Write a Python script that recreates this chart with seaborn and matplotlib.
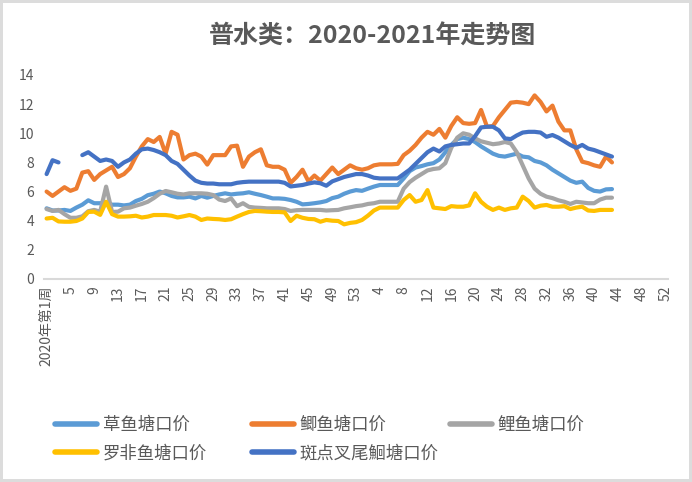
import numpy as np
import pandas as pd
import seaborn as sns
import matplotlib.pyplot as plt
from matplotlib.lines import Line2D

# week categories: 2020 weeks 1-53, then 2021 weeks 1-52
week_labels = ["2020年第1周"] + [str(w) for w in range(2, 54)] + [str(w) for w in range(1, 53)]

title = "普水类：2020-2021年走势图"

names = ["草鱼塘口价", "鲫鱼塘口价", "鲤鱼塘口价", "罗非鱼塘口价", "斑点叉尾鮰塘口价"]
colors = ["#5B9BD5", "#ED7D31", "#A5A5A5", "#FFC000", "#4472C4"]

grass_carp = [
    4.85, 4.7, 4.7, 4.74, 4.67, 4.9, 5.1, 5.4, 5.2, 5.2,
    5.25, 5.1, 5.1, 5.05, 5.1, 5.35, 5.5, 5.75, 5.85, 6.0,
    5.88, 5.7, 5.6, 5.6, 5.65, 5.53, 5.7, 5.58, 5.7, 5.8,
    5.88, 5.8, 5.85, 5.88, 5.95, 5.85, 5.76, 5.65, 5.53, 5.53,
    5.5, 5.42, 5.3, 5.12, 5.15, 5.2, 5.26, 5.35, 5.55, 5.65,
    5.85, 6.0, 6.1, 6.05, 6.2, 6.34, 6.45, 6.45, 6.45, 6.45,
    6.9, 7.4, 7.65, 7.75, 7.87, 7.95, 8.2, 8.7, 9.2, 9.6,
    9.7, 9.6, 9.4, 9.1, 8.85, 8.6, 8.45, 8.4, 8.5, 8.6,
    8.4, 8.35, 8.1, 8.0, 7.8, 7.5, 7.25, 7.0, 6.75, 6.6,
    6.68, 6.25, 6.05, 6.0, 6.15, 6.17,
]
crucian = [
    6.0, 5.7, 6.0, 6.3, 6.05, 6.2, 7.3, 7.4, 6.8, 7.2,
    7.45, 7.7, 7.0, 7.2, 7.6, 8.4, 9.1, 9.6, 9.4, 9.75,
    8.6, 10.1, 9.9, 8.2, 8.5, 8.6, 8.4, 7.85, 8.5, 8.5,
    8.5, 9.1, 9.15, 7.7, 8.4, 8.7, 8.9, 7.8, 7.7, 7.7,
    7.5, 6.6, 7.0, 7.5, 6.7, 7.1, 6.75, 7.2, 7.65, 7.2,
    7.5, 7.8, 7.6, 7.5, 7.6, 7.8, 7.87, 7.87, 7.87, 7.9,
    8.5, 8.8, 9.2, 9.7, 10.1, 9.9, 10.3, 9.7, 10.5, 11.1,
    10.7, 10.65, 10.7, 11.6, 10.45, 10.5, 11.1, 11.6, 12.1, 12.15,
    12.1, 12.0, 12.6, 12.15, 11.5, 11.9, 10.8, 10.2, 10.2, 8.9,
    8.05, 7.95, 7.8, 7.7, 8.4, 8.0,
]
carp = [
    4.8, 4.67, 4.74, 4.45, 4.2, 4.2, 4.3, 4.65, 4.74, 4.62,
    6.34, 4.6, 4.62, 4.85, 4.9, 5.03, 5.15, 5.3, 5.55, 5.85,
    6.04, 5.95, 5.85, 5.8, 5.88, 5.88, 5.88, 5.85, 5.76, 5.45,
    5.35, 5.53, 5.0, 5.2, 4.95, 4.9, 4.88, 4.85, 4.85, 4.85,
    4.8, 4.67, 4.72, 4.74, 4.74, 4.74, 4.74, 4.7, 4.72, 4.74,
    4.85, 4.92, 5.0, 5.05, 5.15, 5.2, 5.3, 5.3, 5.3, 5.3,
    6.2, 6.65, 6.95, 7.2, 7.45, 7.55, 7.6, 7.95, 9.0, 9.7,
    10.0, 9.9, 9.65, 9.45, 9.35, 9.25, 9.3, 9.4, 9.3, 8.7,
    7.8, 6.9, 6.2, 5.85, 5.65, 5.55, 5.4, 5.3, 5.15, 5.3,
    5.25, 5.2, 5.2, 5.45, 5.58, 5.58,
]
tilapia = [
    4.15, 4.2, 3.95, 3.93, 3.93, 3.98, 4.15, 4.6, 4.62, 4.4,
    5.3, 4.45, 4.28, 4.28, 4.3, 4.34, 4.22, 4.28, 4.39, 4.39,
    4.39, 4.34, 4.22, 4.3, 4.39, 4.28, 4.05, 4.15, 4.12, 4.1,
    4.05, 4.1, 4.28, 4.45, 4.6, 4.67, 4.65, 4.62, 4.6, 4.6,
    4.57, 3.98, 4.34, 4.2, 4.12, 4.1, 3.93, 4.05, 4.0, 3.98,
    3.75, 3.85, 3.9, 4.05, 4.35, 4.7, 4.9, 4.9, 4.9, 4.9,
    5.42, 5.76, 5.3, 5.42, 6.1, 4.9, 4.85, 4.8, 5.0, 4.96,
    4.96, 5.05, 5.88, 5.3, 4.96, 4.74, 4.9, 4.74, 4.85, 4.9,
    5.65, 5.35, 4.9, 5.03, 5.08, 4.96, 4.96, 5.0, 4.8, 4.9,
    4.96, 4.7, 4.67, 4.74, 4.74, 4.74,
]
catfish = [
    7.2, 8.15, 8.0, None, None, None, 8.5, 8.7, 8.4, 8.1,
    8.2, 8.1, 7.7, 8.0, 8.2, 8.6, 8.9, 8.95, 8.85, 8.7,
    8.5, 8.1, 7.9, 7.5, 7.1, 6.75, 6.6, 6.55, 6.55, 6.5,
    6.5, 6.5, 6.6, 6.65, 6.68, 6.68, 6.68, 6.68, 6.68, 6.68,
    6.6, 6.35, 6.4, 6.45, 6.55, 6.63, 6.57, 6.4, 6.7, 6.85,
    7.0, 7.1, 7.2, 7.2, 7.1, 6.95, 6.9, 6.9, 6.9, 6.9,
    7.2, 7.5, 7.9, 8.3, 8.7, 8.95, 8.75, 9.1, 9.2, 9.25,
    9.3, 9.3, 9.8, 10.4, 10.45, 10.45, 10.2, 9.65, 9.6, 9.85,
    10.05, 10.1, 10.1, 10.05, 9.76, 9.88, 9.7, 9.45, 9.2, 9.0,
    9.2, 8.95, 8.85, 8.7, 8.55, 8.4,
]
series = [grass_carp, crucian, carp, tilapia, catfish]

sns.set_style("white")
plt.rcParams["font.family"] = ["Noto Sans CJK SC", "DejaVu Sans"]
plt.rcParams["axes.unicode_minus"] = False

text_grey = "#595959"

fig = plt.figure(figsize=(6.92, 4.82), dpi=100)
fig.patch.set_edgecolor("#dcdcdc")
fig.patch.set_linewidth(3)
ax = fig.add_axes([0.0639, 0.4212, 0.9013, 0.4232])

n = len(week_labels)
idx = np.arange(n)
for name, vals, col in zip(names, series, colors):
    s = pd.Series([np.nan if v is None else v for v in vals] + [np.nan] * (n - len(vals)), dtype=float)
    d = pd.DataFrame({"week": idx, "price": s, "run": s.isna().cumsum()}).dropna()
    sns.lineplot(data=d, x="week", y="price", units="run", estimator=None,
                 color=col, lw=3, ax=ax, legend=False,
                 solid_joinstyle="round", solid_capstyle="round")

ax.set_xlim(-0.4, n - 1 + 0.4)
ax.set_ylim(0, 14)
ax.set_yticks(range(0, 15, 2))
ax.set_xticks(idx[::4])
ax.set_xticklabels(week_labels[::4], rotation=90)
ax.tick_params(length=0, colors=text_grey, labelsize=10)
ax.tick_params(axis="x", pad=5)
ax.tick_params(axis="y", pad=7)
ax.set_xlabel("")
ax.set_ylabel("")
for side in ["left", "right", "top"]:
    ax.spines[side].set_visible(False)
ax.spines["bottom"].set_color("#d9d9d9")
ax.spines["bottom"].set_linewidth(1.5)

fig.text(0.538, 1 - 37 / 482, title, ha="center", va="center",
         fontsize=18, fontweight="bold", color=text_grey)

# legend: three columns, placed like the original
handles = [Line2D([], [], color=c, lw=4, solid_capstyle="round") for c in colors]
columns = [([0, 3], 55), ([1, 4], 252), ([2], 450)]
for ids, x0 in columns:
    fig.legend([handles[i] for i in ids], [names[i] for i in ids],
               loc="upper left", bbox_to_anchor=(x0 / 692, 1 - 416 / 482),
               frameon=False, fontsize=12.5, handlelength=2.4, handletextpad=0.35,
               labelspacing=0.6, borderpad=0, borderaxespad=0, labelcolor=text_grey)

fig.savefig("out.png", dpi=100)
